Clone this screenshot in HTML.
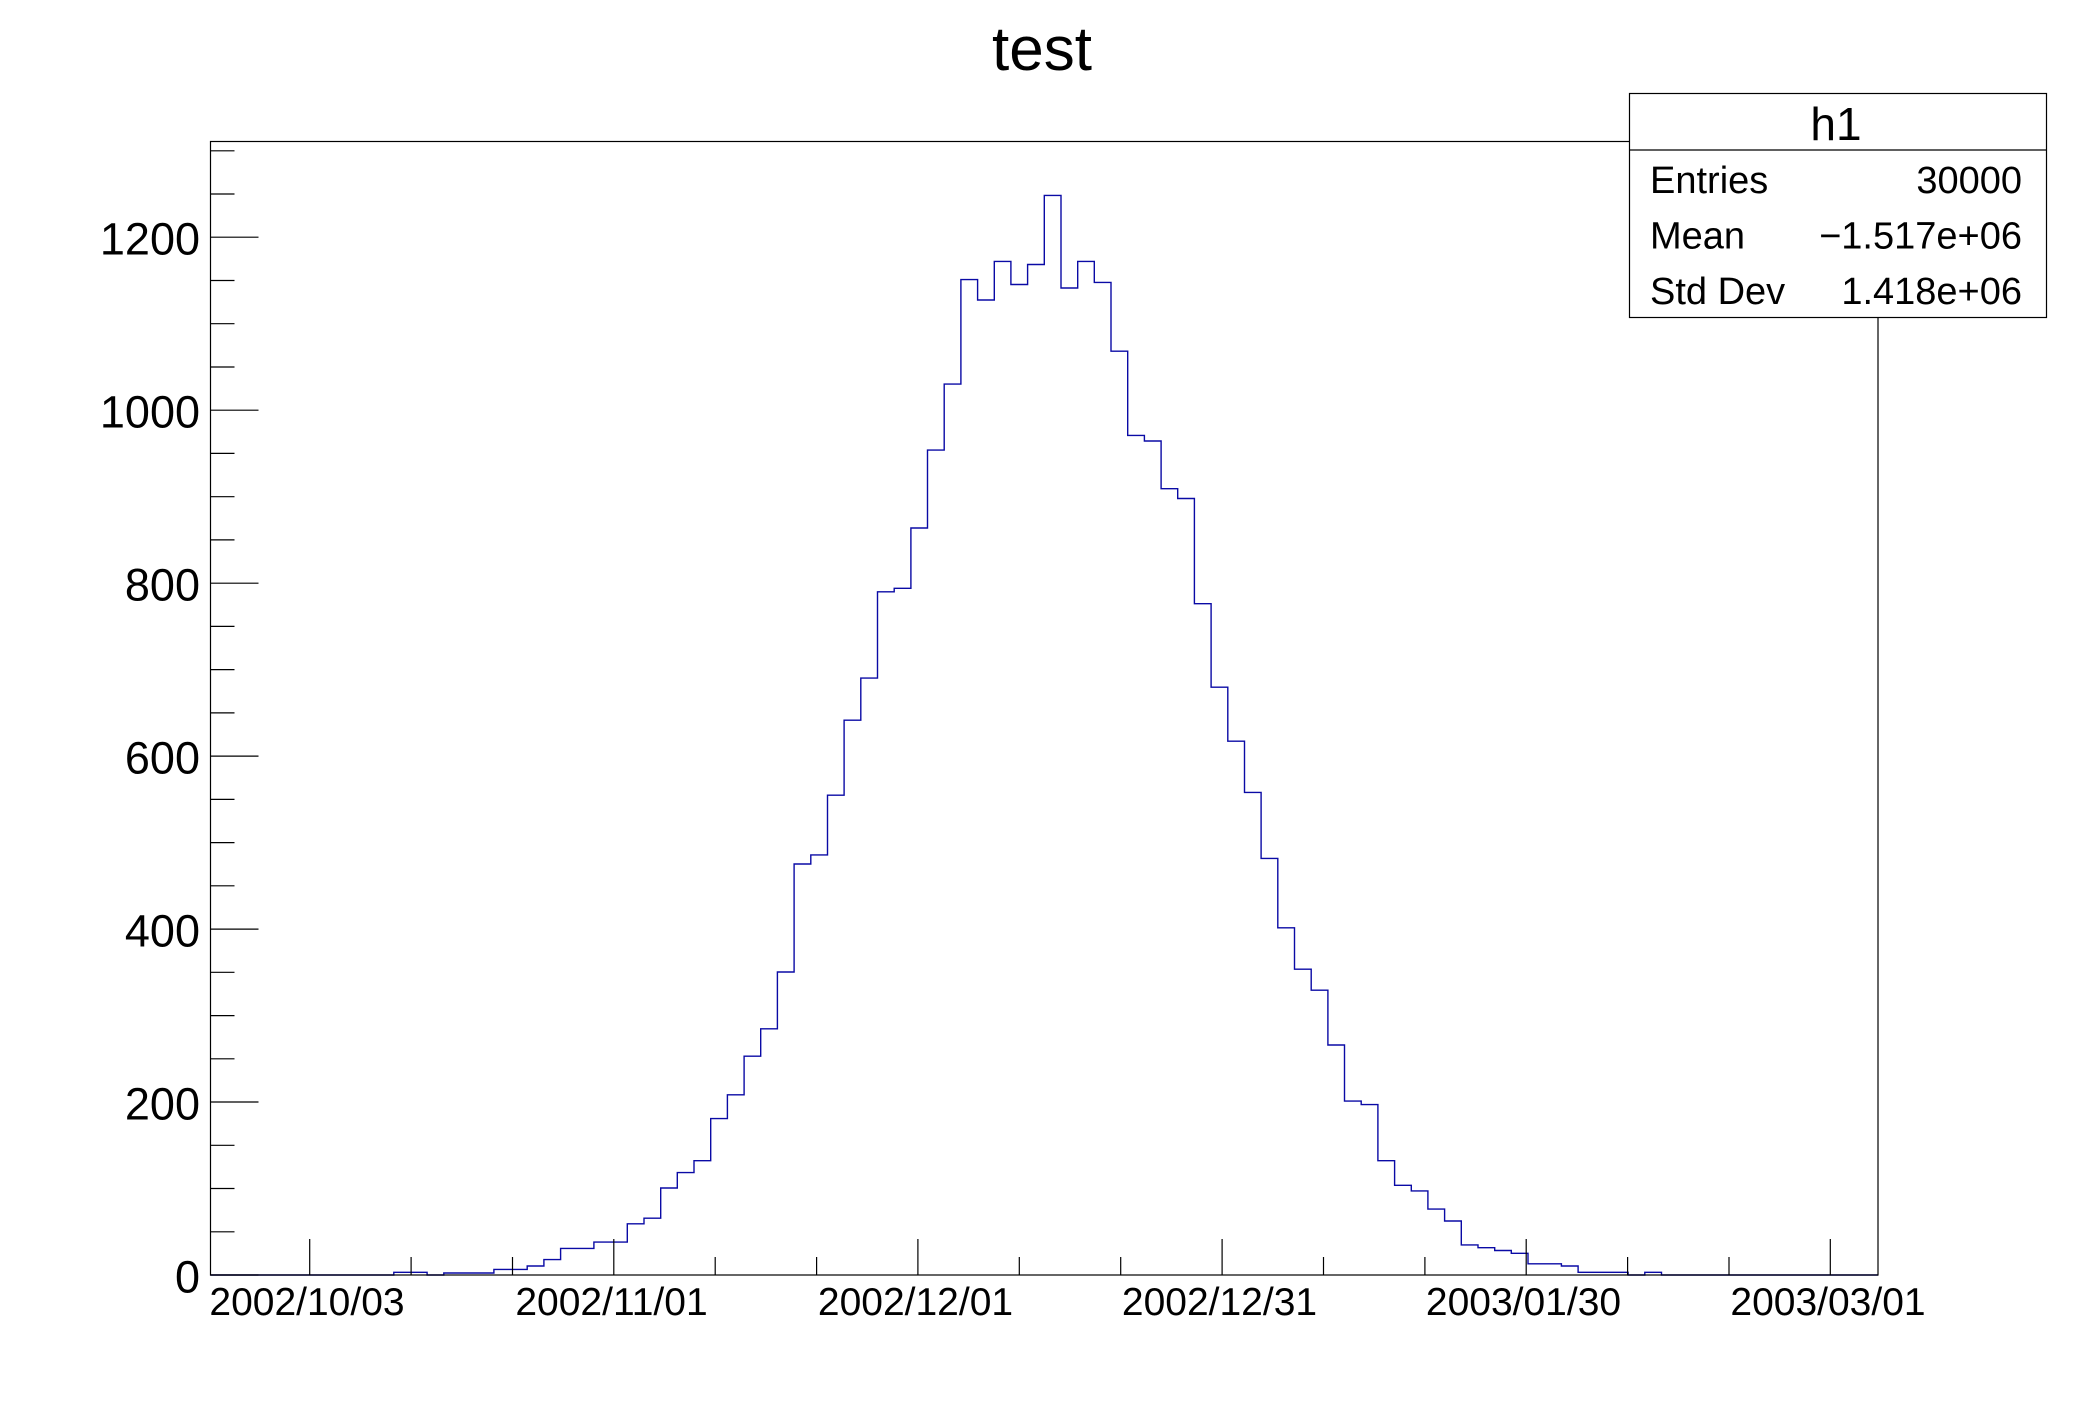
<!DOCTYPE html>
<html>
<head>
<meta charset="utf-8">
<style>
  html, body { margin: 0; padding: 0; background: #ffffff; }
  svg { display: block; }
  text { font-family: "Liberation Sans", Arial, sans-serif; fill: #000; }
</style>
</head>
<body>
<svg width="2088" height="1416" viewBox="0 0 2088 1416" xmlns="http://www.w3.org/2000/svg">
  <rect x="0" y="0" width="2088" height="1416" fill="#ffffff"/>

  <!-- Title -->
  <text x="1042" y="70" font-size="62" text-anchor="middle">test</text>

  <!-- Histogram -->
  <path fill="none" stroke="#0a0aa5" stroke-width="1.4" d="M210.3,1275 H393.8 V1272.3 H427.1 V1275 H443.8 V1273 H493.9 V1269.4 H527.2 V1266 H543.9 V1259.6 H560.6 V1248.4 H593.9 V1242.1 H627.3 V1223.8 H644 V1218.2 H660.7 V1188 H677.3 V1172.6 H694 V1160.7 H710.7 V1118.6 H727.4 V1094.8 H744.1 V1056.2 H760.7 V1028.8 H777.4 V972 H794.1 V864 H810.8 V854.9 H827.5 V795.2 H844.1 V720.2 H860.8 V678.1 H877.5 V591.8 H894.2 V588.3 H910.9 V528 H927.5 V450.1 H944.2 V384.1 H960.9 V279.6 H977.6 V300 H994.3 V261.4 H1010.9 V284.5 H1027.6 V264.5 H1044.3 V195.4 H1061 V288 H1077.7 V261.4 H1094.3 V282.4 H1111 V351.2 H1127.7 V435.4 H1144.4 V441 H1161.1 V488.7 H1177.7 V498.5 H1194.4 V603.7 H1211.1 V687.2 H1227.8 V741.2 H1244.5 V792.4 H1261.1 V858.4 H1277.8 V927.8 H1294.5 V969.2 H1311.2 V990.2 H1327.9 V1045 H1344.5 V1101.1 H1361.2 V1104.6 H1377.9 V1160.7 H1394.6 V1185.3 H1411.3 V1190.9 H1427.9 V1209.1 H1444.6 V1221 H1461.3 V1244.9 H1478 V1247.7 H1494.7 V1250.5 H1511.3 V1253.3 H1528 V1263.8 H1561.4 V1266 H1578.1 V1272.3 H1628.1 V1275 H1644.8 V1272.3 H1661.5 V1275 H1878"/>

  <!-- Frame -->
  <rect x="210.5" y="141.5" width="1667.5" height="1133.5" fill="none" stroke="#000" stroke-width="1.2"/>

  <!-- Y axis ticks -->
  <g stroke="#000" stroke-width="1.2">
    <line x1="210.5" y1="1275" x2="258.5" y2="1275"/>
    <line x1="210.5" y1="1102" x2="258.5" y2="1102"/>
    <line x1="210.5" y1="929.1" x2="258.5" y2="929.1"/>
    <line x1="210.5" y1="756.1" x2="258.5" y2="756.1"/>
    <line x1="210.5" y1="583.2" x2="258.5" y2="583.2"/>
    <line x1="210.5" y1="410.2" x2="258.5" y2="410.2"/>
    <line x1="210.5" y1="237.2" x2="258.5" y2="237.2"/>
    <line x1="210.5" y1="1231.8" x2="234.5" y2="1231.8"/>
    <line x1="210.5" y1="1188.5" x2="234.5" y2="1188.5"/>
    <line x1="210.5" y1="1145.3" x2="234.5" y2="1145.3"/>
    <line x1="210.5" y1="1058.8" x2="234.5" y2="1058.8"/>
    <line x1="210.5" y1="1015.6" x2="234.5" y2="1015.6"/>
    <line x1="210.5" y1="972.3" x2="234.5" y2="972.3"/>
    <line x1="210.5" y1="885.8" x2="234.5" y2="885.8"/>
    <line x1="210.5" y1="842.6" x2="234.5" y2="842.6"/>
    <line x1="210.5" y1="799.4" x2="234.5" y2="799.4"/>
    <line x1="210.5" y1="712.9" x2="234.5" y2="712.9"/>
    <line x1="210.5" y1="669.6" x2="234.5" y2="669.6"/>
    <line x1="210.5" y1="626.4" x2="234.5" y2="626.4"/>
    <line x1="210.5" y1="539.9" x2="234.5" y2="539.9"/>
    <line x1="210.5" y1="496.7" x2="234.5" y2="496.7"/>
    <line x1="210.5" y1="453.4" x2="234.5" y2="453.4"/>
    <line x1="210.5" y1="367" x2="234.5" y2="367"/>
    <line x1="210.5" y1="323.7" x2="234.5" y2="323.7"/>
    <line x1="210.5" y1="280.5" x2="234.5" y2="280.5"/>
    <line x1="210.5" y1="194" x2="234.5" y2="194"/>
    <line x1="210.5" y1="150.8" x2="234.5" y2="150.8"/>
  </g>

  <!-- Y labels -->
  <g font-size="45" text-anchor="end">
    <text x="200" y="1292.5">0</text>
    <text x="200" y="1119.5">200</text>
    <text x="200" y="946.6">400</text>
    <text x="200" y="773.6">600</text>
    <text x="200" y="600.7">800</text>
    <text x="200" y="427.7">1000</text>
    <text x="200" y="254.7">1200</text>
  </g>

  <!-- X axis ticks -->
  <g stroke="#000" stroke-width="1.2">
    <line x1="309.7" y1="1275" x2="309.7" y2="1239"/>
    <line x1="613.8" y1="1275" x2="613.8" y2="1239"/>
    <line x1="917.9" y1="1275" x2="917.9" y2="1239"/>
    <line x1="1222.1" y1="1275" x2="1222.1" y2="1239"/>
    <line x1="1526.2" y1="1275" x2="1526.2" y2="1239"/>
    <line x1="1830.3" y1="1275" x2="1830.3" y2="1239"/>
    <line x1="411.1" y1="1275" x2="411.1" y2="1257"/>
    <line x1="512.5" y1="1275" x2="512.5" y2="1257"/>
    <line x1="715.2" y1="1275" x2="715.2" y2="1257"/>
    <line x1="816.6" y1="1275" x2="816.6" y2="1257"/>
    <line x1="1019.3" y1="1275" x2="1019.3" y2="1257"/>
    <line x1="1120.7" y1="1275" x2="1120.7" y2="1257"/>
    <line x1="1323.5" y1="1275" x2="1323.5" y2="1257"/>
    <line x1="1424.9" y1="1275" x2="1424.9" y2="1257"/>
    <line x1="1627.6" y1="1275" x2="1627.6" y2="1257"/>
    <line x1="1729" y1="1275" x2="1729" y2="1257"/>
  </g>

  <!-- X labels -->
  <g font-size="39" text-anchor="middle">
    <text x="307" y="1315">2002/10/03</text>
    <text x="611.5" y="1315">2002/11/01</text>
    <text x="915.5" y="1315">2002/12/01</text>
    <text x="1219.5" y="1315">2002/12/31</text>
    <text x="1523.5" y="1315">2003/01/30</text>
    <text x="1828" y="1315">2003/03/01</text>
  </g>

  <!-- Stats box -->
  <rect x="1629.5" y="93.5" width="417" height="224" fill="#ffffff" stroke="#000" stroke-width="1.2"/>
  <line x1="1629.5" y1="150" x2="2046.5" y2="150" stroke="#000" stroke-width="1.2"/>
  <text x="1836" y="140" font-size="46" text-anchor="middle">h1</text>
  <g font-size="38">
    <text x="1650" y="193">Entries</text>
    <text x="2022" y="193" text-anchor="end">30000</text>
    <text x="1650" y="248.5">Mean</text>
    <text x="2022" y="248.5" text-anchor="end">−1.517e+06</text>
    <text x="1650" y="304">Std Dev</text>
    <text x="2022" y="304" text-anchor="end">1.418e+06</text>
  </g>
</svg>
</body>
</html>
